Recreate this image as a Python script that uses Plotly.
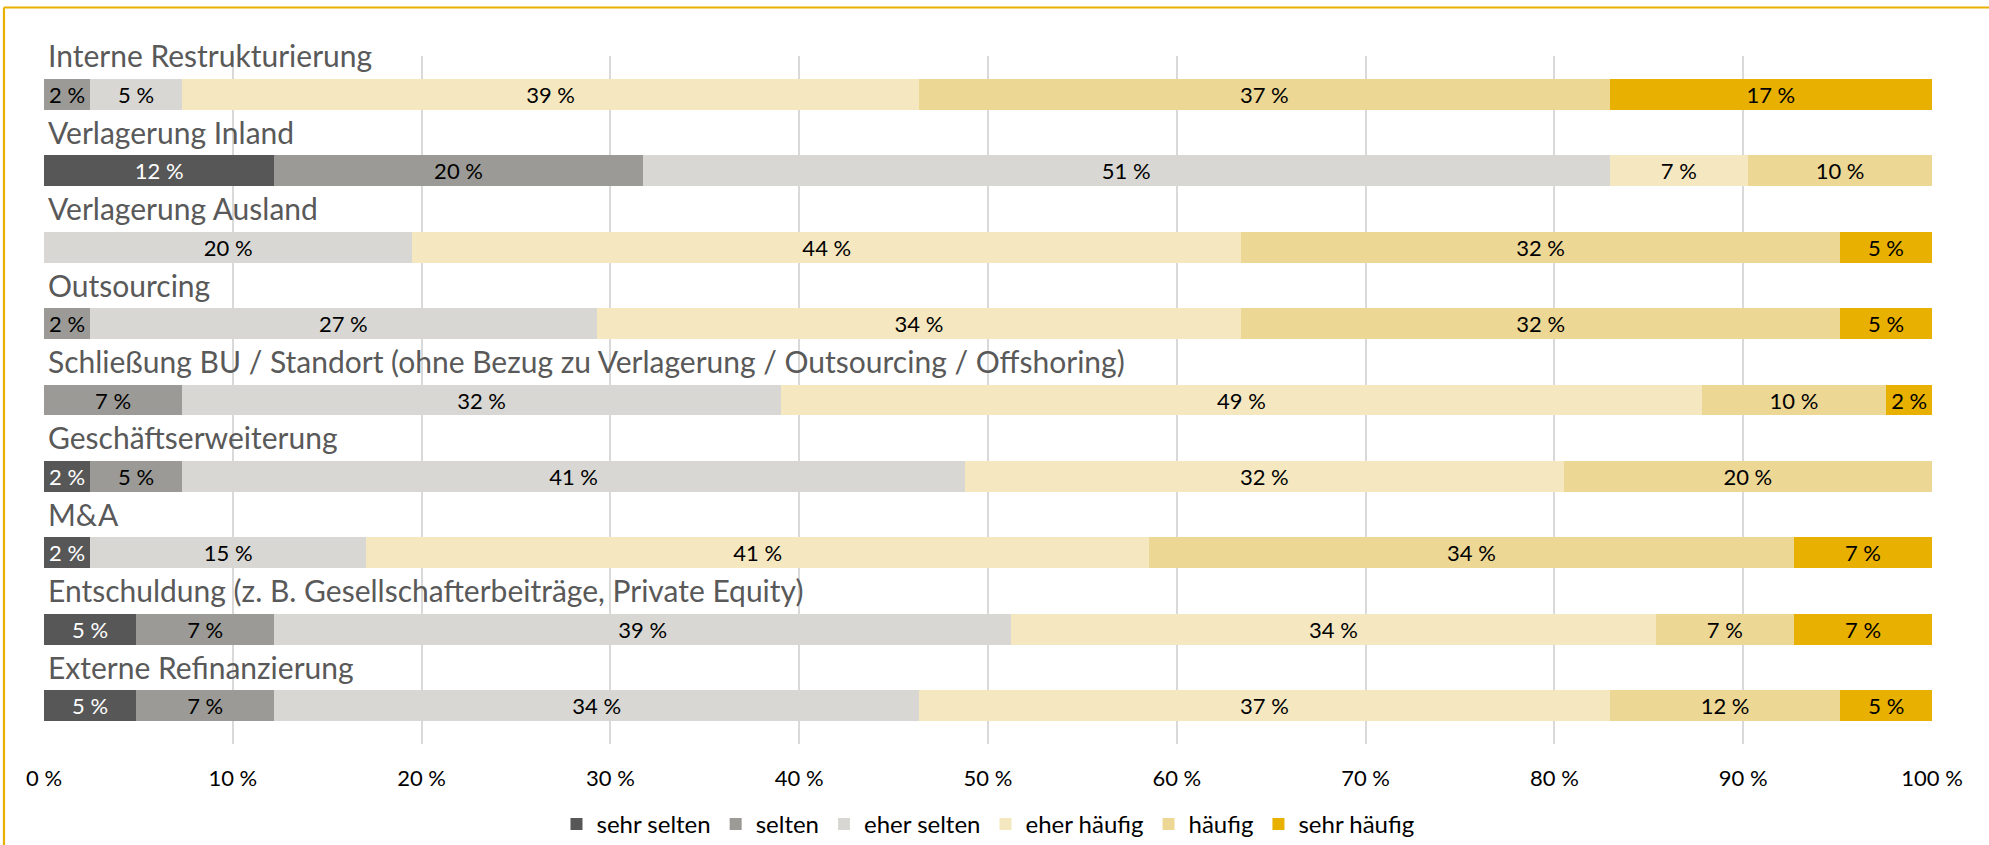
import plotly.graph_objects as go

categories = [
    "Interne Restrukturierung",
    "Verlagerung Inland",
    "Verlagerung Ausland",
    "Outsourcing",
    "Schließung BU / Standort (ohne Bezug zu Verlagerung / Outsourcing / Offshoring)",
    "Geschäftserweiterung",
    "M&A",
    "Entschuldung (z. B. Gesellschafterbeiträge, Private Equity)",
    "Externe Refinanzierung",
]

series_names = ["sehr selten", "selten", "eher selten", "eher häufig", "häufig", "sehr häufig"]

sehr_selten = [None, 12.20, None, None, None, 2.44, 2.44, 4.88, 4.88]
selten = [2.44, 19.51, None, 2.44, 7.32, 4.88, None, 7.32, 7.32]
eher_selten = [4.88, 51.22, 19.51, 26.83, 31.71, 41.46, 14.63, 39.02, 34.15]
eher_haeufig = [39.02, 7.32, 43.90, 34.15, 48.78, 31.71, 41.46, 34.15, 36.59]
haeufig = [36.59, 9.76, 31.71, 31.71, 9.76, 19.51, 34.15, 7.32, 12.20]
sehr_haeufig = [17.07, None, 4.88, 4.88, 2.44, None, 7.32, 7.32, 4.88]

series_values = [sehr_selten, selten, eher_selten, eher_haeufig, haeufig, sehr_haeufig]
colors = ["#575757", "#9b9a96", "#d8d7d3", "#f5e8c1", "#ecd795", "#e8b000"]
text_colors = ["#ffffff", "#000000", "#000000", "#000000", "#000000", "#000000"]

tick_vals = [0, 10, 20, 30, 40, 50, 60, 70, 80, 90, 100]
tick_text = ["0 %", "10 %", "20 %", "30 %", "40 %", "50 %", "60 %", "70 %", "80 %", "90 %", "100 %"]

FONT = "Lato"

fig = go.Figure()
for name, vals, col, tcol in zip(series_names, series_values, colors, text_colors):
    fig.add_trace(go.Bar(
        name=name,
        y=categories,
        x=vals,
        orientation="h",
        marker=dict(color=col, line=dict(width=0)),
        texttemplate="%{x:.0f} %",
        textposition="inside",
        insidetextanchor="middle",
        constraintext="none",
        textangle=0,
        textfont=dict(family=FONT, size=22, color=tcol),
        hoverinfo="skip",
    ))

for cat in categories:
    fig.add_annotation(
        x=0, y=cat, xref="x", yref="y",
        text=cat, showarrow=False,
        xanchor="left", yanchor="bottom",
        xshift=2, yshift=19,
        font=dict(family=FONT, size=30, color="#595959"),
    )

fig.update_layout(
    width=1989, height=845,
    barmode="stack",
    bargap=0.595,
    paper_bgcolor="white",
    plot_bgcolor="white",
    margin=dict(l=44, r=57, t=56, b=101, autoexpand=False),
    showlegend=True,
    legend=dict(
        orientation="h",
        x=0.5, xanchor="center",
        y=-0.117, yanchor="middle",
        font=dict(family=FONT, size=24, color="#000000"),
        traceorder="normal",
        itemclick=False,
    ),
    xaxis=dict(
        range=[0, 100],
        tickvals=tick_vals,
        ticktext=tick_text,
        showgrid=True,
        gridcolor="#d9d9d9",
        gridwidth=1.5,
        zeroline=False,
        showline=False,
        ticks="",
        ticklabelstandoff=19,
        tickfont=dict(family=FONT, size=22, color="#000000"),
        fixedrange=True,
    ),
    yaxis=dict(
        categoryorder="array",
        categoryarray=categories,
        range=[len(categories) - 0.5, -0.5],
        autorange=False,
        showticklabels=False,
        showgrid=False,
        zeroline=False,
        showline=False,
        ticks="",
        fixedrange=True,
    ),
)

# frame lines (top and left) as in the reference
fig.add_shape(type="line", xref="paper", yref="paper",
              x0=-0.0212, x1=1.2, y0=1.0705, y1=1.0705,
              line=dict(color="#e8b000", width=2.2))
fig.add_shape(type="line", xref="paper", yref="paper",
              x0=-0.0212, x1=-0.0212, y0=1.0705, y1=-0.3,
              line=dict(color="#e8b000", width=2.2))

fig.write_html("out.html", config={"displayModeBar": False},
               post_script="document.body.style.margin='0';")
